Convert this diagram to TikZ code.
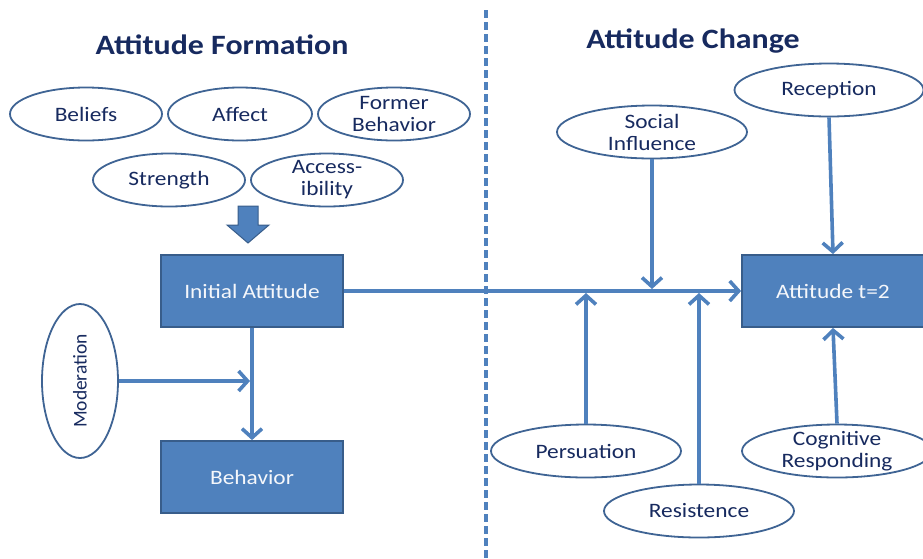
\documentclass[tikz,border=0pt]{standalone}
\usepackage{fontspec}
\usetikzlibrary{shapes.geometric, arrows.meta}

\newfontfamily\bodyfont{Carlito}[FakeStretch=1.14]
\newfontfamily\plainfont{Carlito}
\newcommand{\ideafont}{\bodyfont\fontsize{20.5}{22}\selectfont}
\newcommand{\headfont}{\bodyfont\bfseries\fontsize{28}{32}\selectfont}

\definecolor{linkblue}{HTML}{4F81BD}
\definecolor{edgeblue}{HTML}{385D8A}
\definecolor{ringblue}{HTML}{3F6494}
\definecolor{inkblue}{HTML}{172A5F}

\begin{document}
\begin{tikzpicture}
  [x=1pt, y=-1pt,
   every node/.style={text=inkblue},
   idea/.style={draw=ringblue, line width=1.8pt, fill=white, ellipse, inner xsep=0, inner ysep=-9pt, minimum width=152pt, minimum height=53pt, align=center, font=\ideafont},
   stage/.style={draw=edgeblue, line width=1.8pt, fill=linkblue, text=white!94!linkblue, minimum width=182pt, minimum height=72pt, font=\ideafont},
   link/.style={draw=linkblue, line width=3.6pt, -{Straight Barb[length=9pt, width=20pt]}}]

  \useasboundingbox (0,0) rectangle (923,558);
  \clip (0,0) rectangle (923,558);

  % the two halves
  \draw[linkblue, line width=3.2pt, dash pattern=on 8pt off 4pt] (486,10) -- (486,558);
  \node[font=\headfont] (formtitle) at (222,45) {Attitude Formation};
  \node[font=\headfont] (changetitle) at (693,41) {Attitude Change};

  % formation side
  \node[idea] (beliefs) at (86,114) {Beliefs};
  \node[idea, minimum width=144pt] (affect) at (240,114) {Affect};
  \node[idea] (former) at (394,114) {Former\\Behavior};
  \node[idea] (strength) at (169,180) {Strength};
  \node[idea] (access) at (327,180) {Access-\\ibility};

  \draw[draw=edgeblue, fill=linkblue, line width=1pt]
    (238,206) -- (258,206) -- (258,225) -- (269,225) -- (248,243) -- (227,225) -- (238,225) -- cycle;

  \node[stage] (initial) at (252,291) {Initial Attitude};
  \node[stage] (behavior) at (252,477) {Behavior};
  \node[idea, rotate=90, minimum width=154pt, minimum height=76pt, font=\plainfont\fontsize{19.5}{22}\selectfont] (moderation) at (80,381) {Moderation};
  \coordinate (mjoin) at (250,381);

  % change side
  \node[stage] (attnew) at (833,291) {Attitude t=2};
  \node[idea, minimum width=190pt] (social) at (652,132) {Social\\Influence};
  \node[idea, minimum width=189pt] (reception) at (829,90) {Reception};
  \node[idea, minimum width=190pt] (persuation) at (586,451) {Persuation};
  \node[idea, minimum width=190pt] (resist) at (699,511) {Resistence};
  \node[idea, minimum width=190pt] (cognitive) at (837,451) {Cognitive\\Responding};
  \coordinate (sjoin) at (652,289);
  \coordinate (pjoin) at (586,293);
  \coordinate (rjoin) at (699,293);

  \draw[link] (initial) -- (attnew);
  \draw[link] (social.south) -- (sjoin);
  \draw[link] (reception.south) -- (attnew.north);
  \draw[link] (persuation.north) -- (pjoin);
  \draw[link] (resist.north) -- (rjoin);
  \draw[link] (cognitive.north) -- (attnew.south);
  \draw[link] (initial) -- (behavior);
  \draw[link] (moderation.south) -- (mjoin);
\end{tikzpicture}
\end{document}
